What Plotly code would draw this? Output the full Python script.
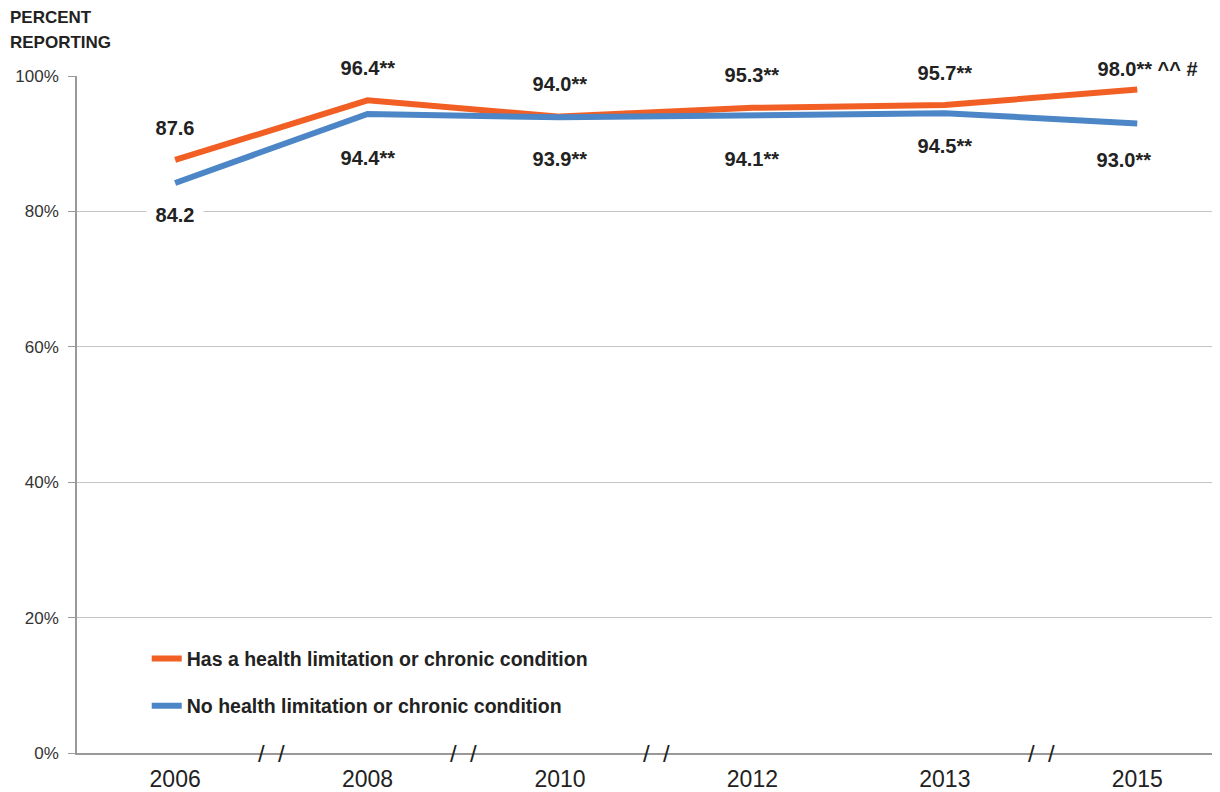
import plotly.graph_objects as go

years = ["2006", "2008", "2010", "2012", "2013", "2015"]
has_limitation = [87.6, 96.4, 94.0, 95.3, 95.7, 98.0]
no_limitation = [84.2, 94.4, 93.9, 94.1, 94.5, 93.0]
has_labels = ["87.6", "96.4**", "94.0**", "95.3**", "95.7**", "98.0** ^^ #"]
no_labels = ["84.2", "94.4**", "93.9**", "94.1**", "94.5**", "93.0**"]
y_ticks = [0, 20, 40, 60, 80, 100]
y_tick_labels = ["0%", "20%", "40%", "60%", "80%", "100%"]
breaks_after = [0, 1, 2, 4]  # axis break marks between these year positions

ORANGE = "#F15F24"
BLUE = "#4C86C6"
FONT = "Liberation Sans Narrow, Arial Narrow, Liberation Sans, Arial, sans-serif"

# label placement, in pixels relative to the point
has_shift = [(0, 32), (0, 32), (0, 33), (0, 33), (0, 32), (10, 21)]
no_shift = [(0, -32), (0, -44), (0, -42), (0, -43), (0, -33), (-13, -37)]

xs = list(range(len(years)))

fig = go.Figure()
fig.add_trace(go.Scatter(
    x=xs, y=has_limitation, mode="lines",
    name="Has a health limitation or chronic condition",
    legendgroup="has",
    line=dict(color=ORANGE, width=6),
))
fig.add_trace(go.Scatter(
    x=xs, y=no_limitation, mode="lines",
    name="No health limitation or chronic condition",
    legendgroup="no",
    line=dict(color=BLUE, width=6),
))

# white boxes behind labels break the gridlines, as in the original
for vals, labels, shifts in [(has_limitation, has_labels, has_shift),
                             (no_limitation, no_labels, no_shift)]:
    for i, (v, t) in enumerate(zip(vals, labels)):
        fig.add_annotation(
            x=xs[i], y=v, text="&nbsp;" + t + "&nbsp;", showarrow=False,
            xshift=shifts[i][0], yshift=shifts[i][1],
            font=dict(family=FONT, size=20, color="#222222", weight="bold"),
            bgcolor="white", borderpad=3,
        )

for b in breaks_after:
    fig.add_annotation(
        x=b + 0.5, y=0, text="/  /", showarrow=False,
        font=dict(family=FONT, size=24, color="#222222"),
    )

for txt, ypos in [("PERCENT", 1.087), ("REPORTING", 1.050)]:
    fig.add_annotation(
        xref="paper", yref="paper", x=-0.0605, y=ypos,
        xanchor="left", yanchor="middle",
        text=txt, showarrow=False,
        font=dict(family=FONT, size=17, color="#222222", weight="bold"),
    )

# page body has an 8px margin, so the figure is drawn 8px smaller
fig.update_layout(
    width=1212, height=784,
    margin=dict(l=69, r=0, t=68, b=39, autoexpand=False),
    plot_bgcolor="white", paper_bgcolor="white",
    font=dict(family=FONT, color="#333333"),
    showlegend=True,
    legend=dict(
        x=0.061, y=0.168, xanchor="left", yanchor="top",
        font=dict(family=FONT, size=19.5, color="#222222", weight="bold"),
        bgcolor="rgba(0,0,0,0)", tracegroupgap=19,
    ),
    xaxis=dict(
        range=[-0.51, 5.43], tickmode="array", tickvals=xs, ticktext=years,
        showgrid=False, showline=True, linecolor="#999999", linewidth=1.5,
        ticks="", ticklabelstandoff=5,
        tickfont=dict(family=FONT, size=23, color="#222222"),
        zeroline=False,
    ),
    yaxis=dict(
        range=[0, 100], tickmode="array", tickvals=y_ticks, ticktext=y_tick_labels,
        showgrid=True, gridcolor="#C4C4C4", gridwidth=1.2,
        showline=True, linecolor="#999999", linewidth=1.5,
        ticks="outside", ticklen=7, tickcolor="#999999",
        ticklabelstandoff=6,
        tickfont=dict(family=FONT, size=17, color="#333333"),
        zeroline=False,
    ),
)

fig.write_html("out.html")
